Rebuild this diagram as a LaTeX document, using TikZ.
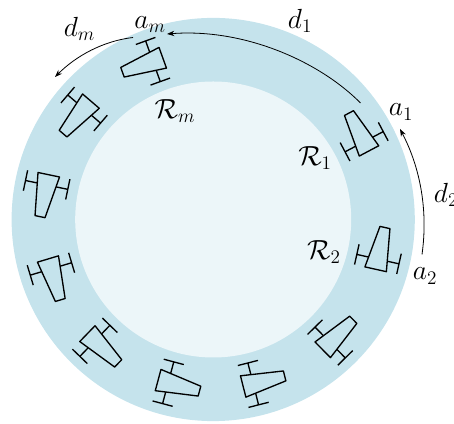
\documentclass[tikz,border=0pt]{standalone}
\usetikzlibrary{arrows.meta}
\definecolor{ringc}{HTML}{C5E3EC}
\definecolor{innerc}{HTML}{ECF6F9}
\tikzset{
  x=0.75pt,y=0.75pt,
  carline/.style={draw=black,line width=1pt,line join=round},
  pics/racecar/.style={code={
    \draw[carline] (-21.4,-11) -- (21.4,-5.1) -- (21.4,5.1) -- (-21.4,11) -- cycle;
    \draw[carline] (-11,9.6) -- (-11,21.6) (-21.4,21.6) -- (-0.6,21.6);
    \draw[carline] (-11,-9.6) -- (-11,-21.6) (-21.4,-21.6) -- (-0.6,-21.6);
  }},
  lbl/.style={inner sep=0pt,font=\fontsize{22}{26}\selectfont},
  arc line/.style={draw=black,line width=0.6pt,-{Stealth[length=5.5pt,width=4pt]}}
}
\begin{document}
\begin{tikzpicture}
\useasboundingbox (0,0) rectangle (454,424);
\clip (0,0) rectangle (454,424);
\coordinate (ctr) at (213.2,204.5);
\fill[ringc] (ctr) circle (201.6);
\fill[innerc] (ctr) circle (138);
\pic[rotate=117.9] at (359,292) {racecar};
\pic[rotate=77.4] at (380.3,175.6) {racecar};
\pic[rotate=44.5] at (338,89.2) {racecar};
\pic[rotate=14.3] at (263.9,42.8) {racecar};
\pic[rotate=-15] at (178.8,38.4) {racecar};
\pic[rotate=-44] at (102.8,75.5) {racecar};
\pic[rotate=-73.3] at (54.1,144.5) {racecar};
\pic[rotate=-101.8] at (44.4,228.3) {racecar};
\pic[rotate=-130.6] at (77,306.6) {racecar};
\pic[rotate=199.8] at (142.6,359) {racecar};
\node[lbl] (dm) at (79.5,395.5) {$d_m$};
\node[lbl] (am) at (150,399.5) {$a_m$};
\node[lbl] (Rm) at (175,313) {$\mathcal{R}_m$};
\node[lbl] (d1) at (300,403.5) {$d_1$};
\node[lbl] (a1) at (401,312) {$a_1$};
\node[lbl] (R1) at (315,266) {$\mathcal{R}_1$};
\node[lbl] (d2) at (446,229) {$d_2$};
\node[lbl] (R2) at (324,172) {$\mathcal{R}_2$};
\node[lbl] (a2) at (425,148) {$a_2$};
\coordinate (s1) at (360.5,321);
\coordinate (e1) at (167,390);
\coordinate (s2) at (422,169.5);
\coordinate (e2) at (400,295);
\coordinate (sm) at (133,386.5);
\coordinate (em) at (55,347);
\draw[arc line] (s1) .. controls (320,362) and (245,396) .. (e1);
\draw[arc line] (s2) .. controls (428,212) and (421,255) .. (e2);
\draw[arc line] (sm) .. controls (103,383) and (76,368) .. (em);
\end{tikzpicture}
\end{document}
